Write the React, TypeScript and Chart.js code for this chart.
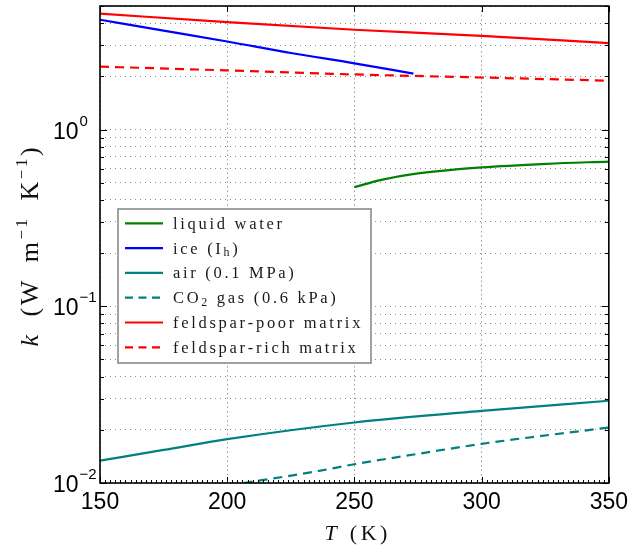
import React, { useEffect, useRef } from "react";
import { Chart, registerables } from "chart.js";
Chart.register(...registerables);

// ---- data ----
const T_water = [250, 260.6, 273.6, 300, 325.6, 350];
const k_water = [0.472, 0.519, 0.561, 0.61, 0.64, 0.659];
const T_ice = [150, 175, 200, 225, 250, 273.2];
const k_ice = [4.18, 3.63, 3.15, 2.71, 2.37, 2.07];
const T_air = [150, 175, 200, 250, 300, 350];
const k_air = [0.01339, 0.01538, 0.0177, 0.022, 0.0256, 0.0292];
const T_co2 = [206.5, 234.6, 250, 275, 300, 350];
const k_co2 = [0.01, 0.0116, 0.01277, 0.01462, 0.01665, 0.0206];
const T_fpoor = [150, 200, 250, 300, 350];
const k_fpoor = [4.53, 4.05, 3.67, 3.39, 3.08];
const T_frich = [150, 200, 250, 300, 350];
const k_frich = [2.27, 2.16, 2.05, 1.97, 1.89];

const xTickValues = [150, 200, 250, 300, 350];
const yDecades = [0.01, 0.1, 1];
const yExponents = ["\u22122", "\u22121", "0"];
const yMin = 0.01;
const yMax = 5;
const xMin = 150;
const xMax = 350;

type Seg = { t: string; sub?: boolean };
const legendLabels: Seg[][] = [
  [{ t: "liquid water" }],
  [{ t: "ice (I" }, { t: "h", sub: true }, { t: ")" }],
  [{ t: "air (0.1 MPa)" }],
  [{ t: "CO" }, { t: "2", sub: true }, { t: " gas (0.6 kPa)" }],
  [{ t: "feldspar-poor matrix" }],
  [{ t: "feldspar-rich matrix" }],
];
const seriesColors = ["#008000", "#0000ff", "#008080", "#008080", "#ff0000", "#ff0000"];
const seriesDashed = [false, false, false, true, false, true];
const seriesT = [T_water, T_ice, T_air, T_co2, T_fpoor, T_frich];
const seriesK = [k_water, k_ice, k_air, k_co2, k_fpoor, k_frich];

const yGridValues: number[] = [];
for (const d of yDecades) {
  for (let m = 1; m <= 9; m++) {
    const v = +(d * m).toPrecision(3);
    if (v <= yMax) yGridValues.push(v);
  }
}

const SERIF = "'Liberation Serif', 'DejaVu Serif', serif";
const SANS = "'Liberation Sans', Arial, sans-serif";

function spacedWidth(ctx: CanvasRenderingContext2D, text: string, sp: number, wordGap = 0) {
  let w = 0;
  const chars = Array.from(text);
  chars.forEach((ch, i) => {
    w += ctx.measureText(ch).width + (ch === " " ? wordGap : 0) + (i < chars.length - 1 ? sp : 0);
  });
  return w;
}
function drawSpaced(ctx: CanvasRenderingContext2D, text: string, x: number, y: number, sp: number, wordGap = 0) {
  let cx = x;
  for (const ch of Array.from(text)) {
    ctx.fillText(ch, cx, y);
    cx += ctx.measureText(ch).width + sp + (ch === " " ? wordGap : 0);
  }
  return cx;
}

const decorPlugin = {
  id: "decor",
  afterDraw(chart: any) {
    const ctx: CanvasRenderingContext2D = chart.ctx;
    const a = chart.chartArea;
    const xs = chart.scales.x;
    const ys = chart.scales.y;
    ctx.save();

    // tick marks (inward)
    ctx.strokeStyle = "#000";
    ctx.lineWidth = 1;
    ctx.beginPath();
    for (let t = xMin; t <= xMax; t += 2) {
      const px = Math.round(xs.getPixelForValue(t)) + 0.5;
      const major = t % 50 === 0;
      const len = major ? 6 : 3;
      ctx.moveTo(px, a.bottom);
      ctx.lineTo(px, a.bottom - len);
      if (major) {
        ctx.moveTo(px, a.top);
        ctx.lineTo(px, a.top + len);
      }
    }
    for (const v of yGridValues) {
      const py = Math.round(ys.getPixelForValue(v)) + 0.5;
      const major = yDecades.includes(v);
      const len = major ? 7 : 4;
      ctx.moveTo(a.left, py);
      ctx.lineTo(a.left + len, py);
      ctx.moveTo(a.right, py);
      ctx.lineTo(a.right - len, py);
    }
    ctx.stroke();

    // frame
    ctx.lineWidth = 1.6;
    ctx.strokeRect(a.left, a.top, a.right - a.left, a.bottom - a.top);

    // y tick labels 10^n
    ctx.fillStyle = "#000";
    yDecades.forEach((v, i) => {
      const py = ys.getPixelForValue(v);
      ctx.font = `23px ${SANS}`;
      ctx.textAlign = "left";
      ctx.textBaseline = "alphabetic";
      ctx.fillText("10", 53, py + 9);
      const w = ctx.measureText("10").width;
      ctx.font = `15px ${SANS}`;
      ctx.fillText(yExponents[i], 53 + w + 1, py - 4);
    });

    // x axis title: T (K)
    ctx.textBaseline = "alphabetic";
    ctx.fillStyle = "#111";
    ctx.font = `italic 22px ${SERIF}`;
    const wT = ctx.measureText("T").width;
    ctx.font = `22px ${SERIF}`;
    const wK = spacedWidth(ctx, "(K)", 3.5);
    const gapX = 13;
    const sx = 356 - (wT + gapX + wK) / 2;
    ctx.font = `italic 22px ${SERIF}`;
    ctx.fillText("T", sx, 540);
    ctx.font = `22px ${SERIF}`;
    drawSpaced(ctx, "(K)", sx + wT + gapX, 540, 3.5);

    // y axis title
    const ySegs: { t: string; it?: boolean; sup?: boolean }[] = [
      { t: "k", it: true },
      { t: " (W m" },
      { t: "\u22121", sup: true },
      { t: " K" },
      { t: "\u22121", sup: true },
      { t: ")" },
    ];
    const big = 26, small = 17, spY = 2.5, wg = 7;
    const fontFor = (s: any) =>
      s.sup ? `${small}px ${SERIF}` : s.it ? `italic ${big}px ${SERIF}` : `${big}px ${SERIF}`;
    let total = 0;
    ySegs.forEach((s, i) => {
      ctx.font = fontFor(s);
      total += spacedWidth(ctx, s.t, spY, wg) + (i < ySegs.length - 1 ? spY : 0);
    });
    ctx.save();
    ctx.translate(38, 247);
    ctx.rotate(-Math.PI / 2);
    let cx = -total / 2;
    ySegs.forEach((s) => {
      ctx.font = fontFor(s);
      cx = drawSpaced(ctx, s.t, cx, s.sup ? -11 : 0, spY, wg);
    });
    ctx.restore();

    // legend
    const lx = 118, ly = 209, lw = 253, lh = 154;
    ctx.fillStyle = "#fff";
    ctx.fillRect(lx, ly, lw, lh);
    ctx.strokeStyle = "#8a8a8a";
    ctx.lineWidth = 1.6;
    ctx.strokeRect(lx, ly, lw, lh);
    legendLabels.forEach((segs, i) => {
      const ry = 223.3 + i * 24.8;
      ctx.strokeStyle = seriesColors[i];
      ctx.lineWidth = 2.2;
      ctx.setLineDash(seriesDashed[i] ? [8, 5.5] : []);
      ctx.beginPath();
      ctx.moveTo(125, ry);
      ctx.lineTo(163, ry);
      ctx.stroke();
      ctx.setLineDash([]);
      ctx.fillStyle = "#1a1a1a";
      ctx.textBaseline = "alphabetic";
      let tx = 173;
      segs.forEach((sg) => {
        ctx.font = sg.sub ? `12px ${SERIF}` : `16.5px ${SERIF}`;
        tx = drawSpaced(ctx, sg.t, tx, sg.sub ? ry + 8 : ry + 5.5, 2.7);
      });
    });

    ctx.restore();
  },
};

export default function App() {
  const ref = useRef<HTMLCanvasElement | null>(null);
  useEffect(() => {
    if (!ref.current) return;
    const datasets = seriesT.map((T, i) => ({
      label: legendLabels[i].map((s) => s.t).join(""),
      data: T.map((t, j) => ({ x: t, y: seriesK[i][j] })),
      borderColor: seriesColors[i],
      backgroundColor: seriesColors[i],
      borderWidth: 2.2,
      borderDash: seriesDashed[i] ? [9, 6] : [],
      pointRadius: 0,
      fill: false,
      cubicInterpolationMode: "monotone" as const,
    }));
    const chart = new Chart(ref.current, {
      type: "line",
      data: { datasets },
      options: {
        responsive: false,
        animation: false,
        devicePixelRatio: 1,
        layout: { padding: { left: 0, top: 6, right: 21, bottom: 0 } },
        plugins: { legend: { display: false }, tooltip: { enabled: false } },
        scales: {
          x: {
            type: "linear",
            min: xMin,
            max: xMax,
            afterBuildTicks: (s: any) => {
              s.ticks = xTickValues.map((v) => ({ value: v }));
            },
            afterFit: (s: any) => {
              s.height = 67;
            },
            ticks: {
              font: { family: SANS, size: 23 },
              color: "#000",
              padding: 6,
              maxRotation: 0,
            },
            grid: { color: "#9a9a9a", lineWidth: 1, drawTicks: false },
            border: { display: false, dash: [1.5, 3] },
          },
          y: {
            type: "logarithmic",
            min: yMin,
            max: yMax,
            afterBuildTicks: (s: any) => {
              s.ticks = yGridValues.map((v) => ({ value: v }));
            },
            afterFit: (s: any) => {
              s.width = 100;
            },
            ticks: { display: false },
            grid: { color: "#8a8a8a", lineWidth: 1, drawTicks: false },
            border: { display: false, dash: [1, 4] },
          },
        },
      },
      plugins: [decorPlugin],
    });
    return () => chart.destroy();
  }, []);
  return (
    <div style={{ position: "absolute", left: 0, top: 0, width: 634, height: 550, background: "#fff" }}>
      <canvas ref={ref} width={634} height={550} style={{ width: 634, height: 550, display: "block" }} />
    </div>
  );
}
